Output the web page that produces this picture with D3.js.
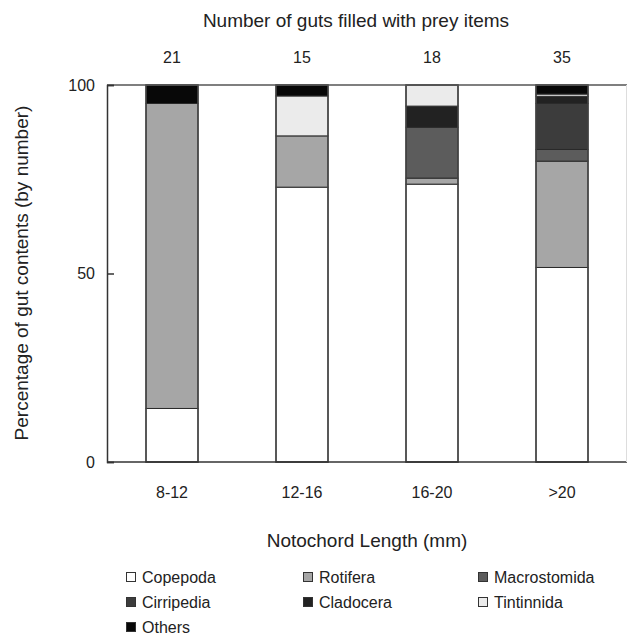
<!DOCTYPE html>
<html>
<head>
<meta charset="utf-8">
<script src="https://cdn.jsdelivr.net/npm/d3@7"></script>
<style>
  html, body { margin: 0; padding: 0; background: #fff; }
  svg { display: block; font-family: "Liberation Sans", Arial, sans-serif; }
</style>
</head>
<body>
<svg id="chart" width="628" height="635"></svg>
<script>
// Length classes and number of guts examined in each
const lengthClasses = ["8-12", "12-16", "16-20", ">20"];
const gutCounts = [21, 15, 18, 35];

// Prey groups, stacked bottom to top
const preyGroups = ["Copepoda", "Rotifera", "Macrostomida", "Cirripedia", "Cladocera", "Tintinnida", "Others"];
const preyFills = ["#ffffff", "#a6a6a6", "#5c5c5c", "#3c3c3c", "#222222", "#ebebeb", "#080808"];

// Percentage of gut contents (by number) per length class
const copepoda     = [14.2, 72.9, 73.7, 51.6];
const rotifera     = [80.9, 13.6,  1.6, 28.2];
const macrostomida = [ 0.0,  0.0, 13.5,  3.1];
const cirripedia   = [ 0.0,  0.0,  0.0, 12.2];
const cladocera    = [ 0.0,  0.0,  5.6,  1.9];
const tintinnida   = [ 0.0, 10.6,  5.6,  0.6];
const others       = [ 4.9,  2.9,  0.0,  2.4];

const yTicks = [0, 50, 100];

const seriesValues = [copepoda, rotifera, macrostomida, cirripedia, cladocera, tintinnida, others];
const rows = lengthClasses.map((c, i) => {
  const r = { cls: c };
  preyGroups.forEach((g, k) => { r[g] = seriesValues[k][i]; });
  return r;
});

const svg = d3.select("#chart");
const plotLeft = 107, plotRight = 627, plotTop = 85, plotBottom = 462;
const ink = "#333";

const x = d3.scaleBand().domain(lengthClasses).range([plotLeft, plotRight])
  .paddingInner(0.6).paddingOuter(0.3);
const y = d3.scaleLinear().domain([0, 100]).range([plotBottom, plotTop]);
const color = d3.scaleOrdinal().domain(preyGroups).range(preyFills);

const stacked = d3.stack().keys(preyGroups)(rows);

// Stacked bars
const layer = svg.append("g").selectAll("g").data(stacked).join("g")
  .attr("fill", d => color(d.key));
layer.selectAll("rect").data(d => d.filter(s => s[1] - s[0] > 0)).join("rect")
  .attr("x", d => x(d.data.cls))
  .attr("width", x.bandwidth())
  .attr("y", d => y(d[1]))
  .attr("height", d => y(d[0]) - y(d[1]))
  .attr("stroke", "#2a2a2a")
  .attr("stroke-width", 1);

// Bar outlines
svg.append("g").selectAll("rect").data(lengthClasses).join("rect")
  .attr("x", d => x(d))
  .attr("width", x.bandwidth())
  .attr("y", y(100))
  .attr("height", y(0) - y(100))
  .attr("fill", "none")
  .attr("stroke", "#444")
  .attr("stroke-width", 1.5);

// Plot frame: top and bottom rules, left axis, faint right edge
svg.append("line").attr("x1", plotLeft).attr("x2", plotRight).attr("y1", plotTop).attr("y2", plotTop)
  .attr("stroke", "#555").attr("stroke-width", 1.5);
svg.append("line").attr("x1", plotLeft).attr("x2", plotRight).attr("y1", plotBottom).attr("y2", plotBottom)
  .attr("stroke", ink).attr("stroke-width", 1.5);
svg.append("line").attr("x1", plotRight - 0.5).attr("x2", plotRight - 0.5).attr("y1", plotTop).attr("y2", plotBottom)
  .attr("stroke", "#ddd").attr("stroke-width", 1);

const yAxis = d3.axisRight(y).tickValues(yTicks).tickSize(7).tickFormat("");
const yg = svg.append("g").attr("transform", `translate(${plotLeft},0)`).call(yAxis);
yg.select(".domain").attr("stroke", ink).attr("stroke-width", 1.5);
yg.selectAll(".tick line").attr("stroke", ink).attr("stroke-width", 1.5);

// Y tick labels
svg.append("g").selectAll("text").data(yTicks).join("text")
  .attr("x", 95).attr("y", d => y(d)).attr("dy", "0.35em")
  .attr("text-anchor", "end").attr("font-size", 16).attr("fill", "#222")
  .text(d => d);

// X tick labels
svg.append("g").selectAll("text").data(lengthClasses).join("text")
  .attr("x", d => x(d) + x.bandwidth() / 2).attr("y", 498)
  .attr("text-anchor", "middle").attr("font-size", 16).attr("fill", "#222")
  .text(d => d);

// Gut counts above bars
svg.append("g").selectAll("text").data(lengthClasses).join("text")
  .attr("x", d => x(d) + x.bandwidth() / 2).attr("y", 63)
  .attr("text-anchor", "middle").attr("font-size", 16).attr("fill", "#222")
  .text((d, i) => gutCounts[i]);

// Titles
svg.append("text").attr("x", 356).attr("y", 27).attr("text-anchor", "middle")
  .attr("font-size", 19).attr("fill", "#222").text("Number of guts filled with prey items");
svg.append("text").attr("x", 367).attr("y", 547).attr("text-anchor", "middle")
  .attr("font-size", 19).attr("fill", "#222").text("Notochord Length (mm)");
svg.append("text").attr("transform", "translate(28,273) rotate(-90)").attr("text-anchor", "middle")
  .attr("font-size", 19).attr("fill", "#222").text("Percentage of gut contents (by number)");

// Legend, three columns
const legendCols = [126, 303, 478];
const legendRows = [577, 602, 627];
const leg = svg.append("g").selectAll("g").data(preyGroups).join("g")
  .attr("transform", (d, i) => `translate(${legendCols[i % 3]},${legendRows[Math.floor(i / 3)]})`);
leg.append("rect").attr("x", 0.5).attr("y", -4.5).attr("width", 9).attr("height", 9)
  .attr("fill", d => color(d)).attr("stroke", "#333").attr("stroke-width", 1);
leg.append("text").attr("x", 16).attr("dy", "0.36em").attr("font-size", 16).attr("fill", "#222")
  .text(d => d);
</script>
</body>
</html>
